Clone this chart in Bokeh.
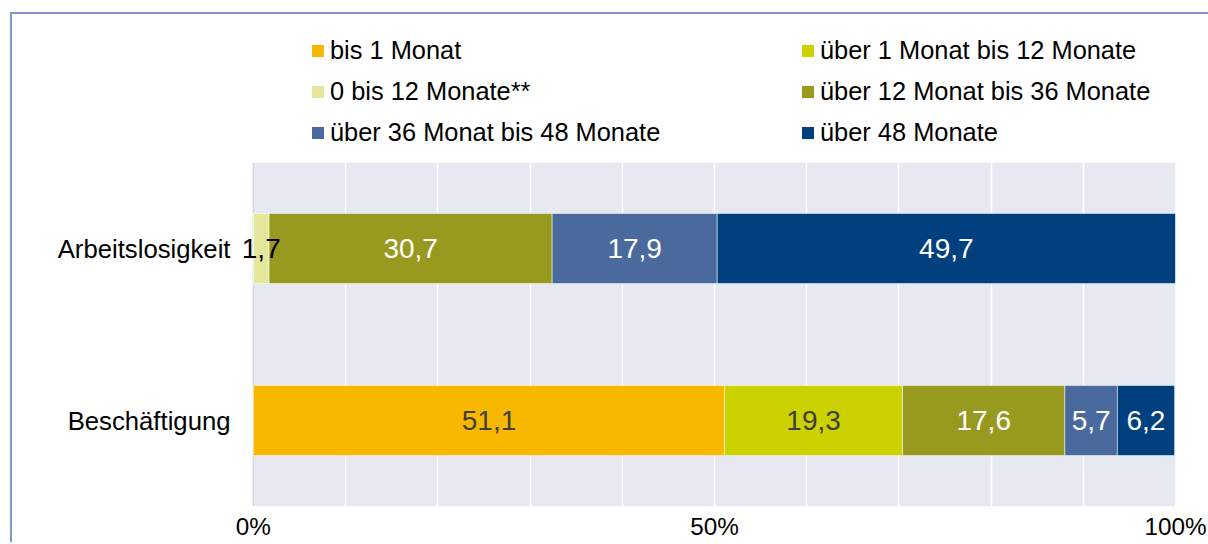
from bokeh.plotting import figure
from bokeh.layouts import column
from bokeh.models import (FactorRange, Range1d, FixedTicker, Legend, LegendItem,
                          ColumnDataSource, LabelSet, BoxAnnotation, Span)
from bokeh.core.properties import value
from bokeh.embed import file_html
from bokeh.resources import INLINE

# ---- data ----
categories = ["Beschäftigung", "Arbeitslosigkeit"]
series = ["bis 1 Monat", "über 1 Monat bis 12 Monate", "0 bis 12 Monate**",
          "über 12 Monat bis 36 Monate", "über 36 Monat bis 48 Monate", "über 48 Monate"]
colors = ["#F9B800", "#CCD200", "#E5E79C", "#989A1F", "#4A6A9E", "#00407E"]
label_colors = ["#3F3F3F", "#3F3F3F", "#000000", "white", "white", "white"]
bis_1 = [51.1, 0.0]
ueber_1_12 = [19.3, 0.0]
null_12 = [0.0, 1.7]
ueber_12_36 = [17.6, 30.7]
ueber_36_48 = [5.7, 17.9]
ueber_48 = [6.2, 49.7]
tick_values = [0, 50, 100]
tick_labels = ["0%", "50%", "100%"]
grid_values = list(range(0, 101, 10))

values = [bis_1, ueber_1_12, null_12, ueber_12_36, ueber_36_48, ueber_48]
keys = ["s%d" % i for i in range(len(series))]
data = {"cat": categories}
for k, v in zip(keys, values):
    data[k] = v
source = ColumnDataSource(data)

FONT = "Liberation Sans"
BORDER = "2px solid #7F96C6"
X_START = -1.4  # left padding so the small label fits

# ---- legend figure ----
lf = figure(width=1198, height=146, output_backend="svg", toolbar_location=None,
            x_range=Range1d(0, 1), y_range=Range1d(0, 1),
            x_axis_type=None, y_axis_type=None,
            min_border_left=0, min_border_right=0, min_border_top=0, min_border_bottom=0)
lf.styles = {"margin-left": "10px", "margin-top": "12px",
             "border-left": BORDER, "border-top": BORDER}
lf.outline_line_color = None
lf.background_fill_color = "white"
lf.border_fill_color = "white"
lf.xgrid.visible = False
lf.ygrid.visible = False
# zero-size stand-ins, only so that the legend has swatches
dummy = [lf.hbar(y=[0.5], left=[0], right=[0], height=0, fill_color=c, line_color=None)
         for c in colors]

def make_legend(idx, loc):
    leg = Legend(items=[LegendItem(label=series[i], renderers=[dummy[i]]) for i in idx],
                 location=loc, orientation="vertical")
    leg.label_text_font = FONT
    leg.label_text_font_size = "25.4px"
    leg.label_text_color = "black"
    leg.glyph_width = 15
    leg.glyph_height = 15
    leg.label_standoff = 5
    leg.spacing = 12
    leg.padding = 0
    leg.margin = 0
    leg.background_fill_alpha = 0
    leg.border_line_color = None
    return leg

lf.add_layout(make_legend([0, 2, 4], (70, 13)))
lf.add_layout(make_legend([1, 3, 5], (560, 13)))

# ---- chart figure ----
p = figure(width=1198, height=384, output_backend="svg", toolbar_location=None,
           y_range=FactorRange(factors=categories, range_padding=0),
           x_range=Range1d(X_START, tick_values[-1]),
           min_border_left=228, min_border_right=35, min_border_top=4, min_border_bottom=36)
p.styles = {"margin-left": "10px", "border-left": BORDER}
p.background_fill_color = "white"
p.border_fill_color = "white"
p.outline_line_color = None

p.add_layout(BoxAnnotation(left=tick_values[0], right=tick_values[-1],
                           fill_color="#E6E9F2", fill_alpha=1, line_color=None, level="image"))
p.add_layout(Span(location=tick_values[0], dimension="height", line_color="#D3D7E2",
                  line_width=1.5, level="underlay"))

rs = p.hbar_stack(keys, y="cat", height=0.407, color=colors, source=source,
                  line_color="white", line_alpha=0.5, line_width=1)

# data labels
lx, ly, lt, lc = [], [], [], []
for ci, cat in enumerate(categories):
    cum = 0.0
    for si, v in enumerate(values):
        val = v[ci]
        if val > 0:
            lx.append(cum + val / 2)
            ly.append(cat)
            lt.append(("%.1f" % val).replace(".", ","))
            lc.append(label_colors[si])
        cum += val
lsrc = ColumnDataSource(dict(x=lx, y=ly, text=lt, color=lc))
labels = LabelSet(x="x", y="y", text="text", source=lsrc, text_align="center",
                  text_baseline="middle", text_font=value(FONT), text_font_size=value("28px"),
                  text_color="color")
p.add_layout(labels)

# axes
p.xaxis.ticker = FixedTicker(ticks=tick_values)
p.xaxis.major_label_overrides = {t: l for t, l in zip(tick_values, tick_labels)}
p.xaxis.axis_line_color = None
p.xaxis.major_tick_line_color = None
p.xaxis.minor_tick_line_color = None
p.xaxis.major_tick_out = 0
p.xaxis.major_tick_in = 0
p.xaxis.minor_tick_out = 0
p.xaxis.minor_tick_in = 0
p.xaxis.major_label_text_font = FONT
p.xaxis.major_label_text_font_size = "24.3px"
p.xaxis.major_label_text_color = "black"
p.xaxis.major_label_standoff = 6

p.yaxis.axis_line_color = None
p.yaxis.major_tick_line_color = None
p.yaxis.minor_tick_line_color = None
p.yaxis.major_tick_out = 0
p.yaxis.major_tick_in = 0
p.yaxis.major_label_text_font = FONT
p.yaxis.major_label_text_font_size = "25.7px"
p.yaxis.major_label_text_color = "black"
p.yaxis.major_label_standoff = 10

p.xgrid.ticker = FixedTicker(ticks=grid_values)
p.xgrid.grid_line_color = "white"
p.xgrid.grid_line_width = 1.5
p.ygrid.grid_line_color = None

layout = column(lf, p, spacing=0)
open("out.html", "w").write(file_html(layout, INLINE))
